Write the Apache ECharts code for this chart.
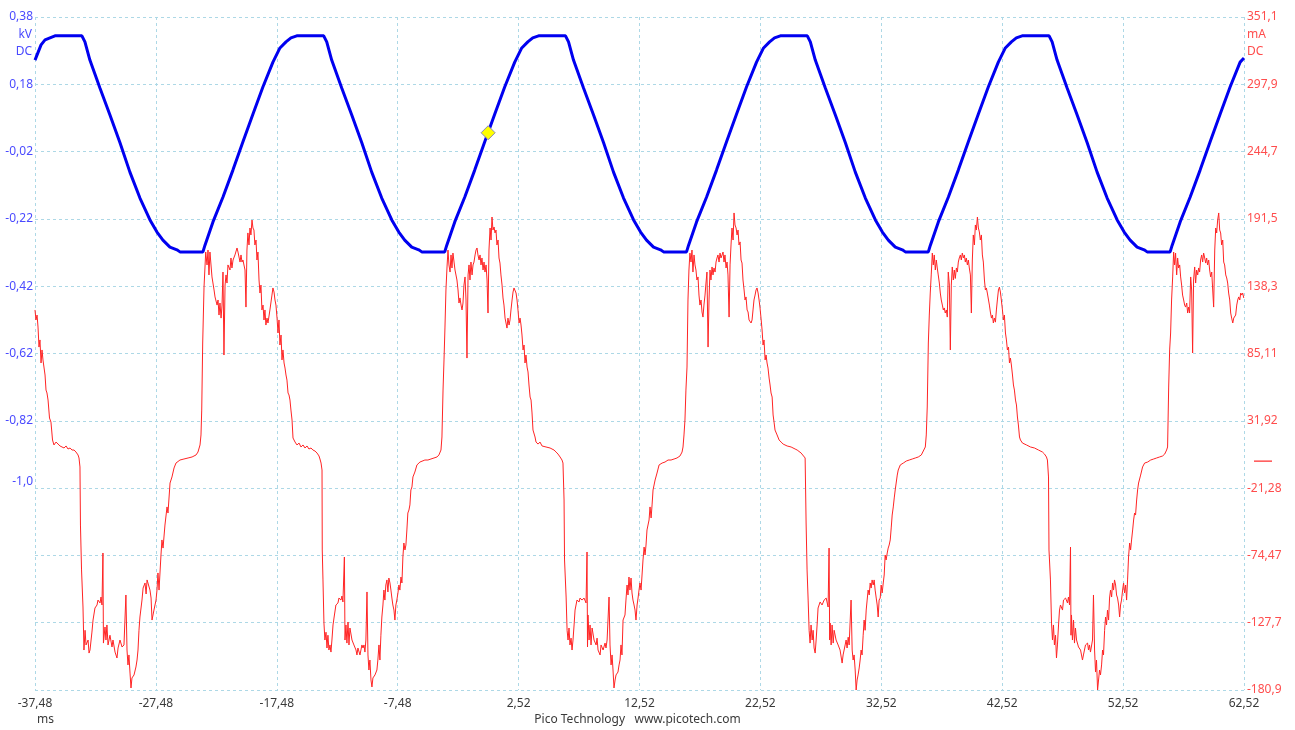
<!DOCTYPE html>
<html>
<head>
<meta charset="utf-8">
<script src="https://cdn.jsdelivr.net/npm/echarts@6/dist/echarts.min.js"></script>
<style>
html,body{margin:0;padding:0;background:#fff;}
#chart{width:1295px;height:730px;}
</style>
</head>
<body>
<div id="chart"></div>
<script>
// ---- axis definitions ----
const timeRange = [-37.48, 62.52];           // ms
const timeStep = 10;
const kvRange = [-1.62, 0.38];               // kV
const kvTickValues = [0.38, 0.18, -0.02, -0.22, -0.42, -0.62, -0.82, -1.0];
const kvTickLabels = ['0,38', '0,18', '-0,02', '-0,22', '-0,42', '-0,62', '-0,82', '-1,0'];
const maRange = [-180.9, 351.1];             // mA
const maStep = 53.2;
const maTickLabels = ['-180,9', '-127,7', '-74,47', '-21,28', '31,92', '85,11', '138,3', '191,5', '244,7', '297,9', '351,1'];
const triggerPoint = [0, 0.036];

// ---- channel A : voltage [ms, kV] ----
const voltage = [
[-37.48,0.252],[-36.98,0.297],[-36.65,0.312],[-36.24,0.318],
[-35.83,0.324],[-33.60,0.324],[-33.35,0.306],[-32.94,0.252],[-32.11,0.169],[-31.28,0.089],[-30.45,0.006],[-29.63,-0.081],[-28.80,-0.158],[-27.97,-0.223],[-27.39,-0.259],[-26.90,-0.283],[-26.32,-0.304],[-25.74,-0.312],[-25.49,-0.318],[-23.59,-0.318],[-23.42,-0.298],[-22.76,-0.229],[-21.93,-0.155],[-21.11,-0.075],[-20.28,0.009],[-19.45,0.092],[-18.63,0.172],[-17.80,0.246],[-17.22,0.288],[-16.72,0.306],[-16.31,0.318],
[-15.83,0.324],[-13.60,0.324],[-13.35,0.306],[-12.94,0.252],[-12.11,0.169],[-11.28,0.089],[-10.45,0.006],[-9.63,-0.081],[-8.80,-0.158],[-7.97,-0.223],[-7.39,-0.259],[-6.90,-0.283],[-6.32,-0.304],[-5.74,-0.312],[-5.49,-0.318],[-3.59,-0.318],[-3.42,-0.298],[-2.76,-0.229],[-1.93,-0.155],[-1.11,-0.075],[-0.28,0.009],[0.55,0.092],[1.37,0.172],[2.20,0.246],[2.78,0.288],[3.28,0.306],[3.69,0.318],
[4.17,0.324],[6.40,0.324],[6.65,0.306],[7.06,0.252],[7.89,0.169],[8.72,0.089],[9.55,0.006],[10.37,-0.081],[11.20,-0.158],[12.03,-0.223],[12.61,-0.259],[13.10,-0.283],[13.68,-0.304],[14.26,-0.312],[14.51,-0.318],[16.41,-0.318],[16.58,-0.298],[17.24,-0.229],[18.07,-0.155],[18.89,-0.075],[19.72,0.009],[20.55,0.092],[21.37,0.172],[22.20,0.246],[22.78,0.288],[23.28,0.306],[23.69,0.318],
[24.17,0.324],[26.40,0.324],[26.65,0.306],[27.06,0.252],[27.89,0.169],[28.72,0.089],[29.55,0.006],[30.37,-0.081],[31.20,-0.158],[32.03,-0.223],[32.61,-0.259],[33.10,-0.283],[33.68,-0.304],[34.26,-0.312],[34.51,-0.318],[36.41,-0.318],[36.58,-0.298],[37.24,-0.229],[38.07,-0.155],[38.89,-0.075],[39.72,0.009],[40.55,0.092],[41.37,0.172],[42.20,0.246],[42.78,0.288],[43.28,0.306],[43.69,0.318],
[44.17,0.324],[46.40,0.324],[46.65,0.306],[47.06,0.252],[47.89,0.169],[48.72,0.089],[49.55,0.006],[50.37,-0.081],[51.20,-0.158],[52.03,-0.223],[52.61,-0.259],[53.10,-0.283],[53.68,-0.304],[54.26,-0.312],[54.51,-0.318],[56.41,-0.318],[56.58,-0.298],[57.24,-0.229],[58.07,-0.155],[58.89,-0.075],[59.72,0.009],[60.55,0.092],[61.37,0.172],[62.20,0.246],[62.52,0.258]
];

// ---- channel B : current [ms, mA] ----
const currentCycle1 = [
[-37.48,119.5],[-37.40,111.6],[-37.31,115.5],[-37.23,106.0],[-37.15,90.2],[-37.07,95.8],[-36.98,77.6],[-36.90,87.9],[-36.82,80.0],[-36.74,81.5],[-36.65,68.1],[-36.57,56.2],[-36.49,53.9],[-36.40,48.3],[-36.28,34.1],[-36.16,30.9],[-36.03,16.7],[-35.91,12.8],[-35.74,15.1],[-35.58,14.3],[-35.41,12.0],[-35.25,12.8],[-35.08,10.4],[-34.91,12.0],[-34.75,9.6],[-34.58,10.4],[-34.42,8.8],[-34.25,8.8],[-34.09,7.2],[-33.92,4.9],[-33.84,2.5],[-33.76,-4.6],[-33.72,-50.5],[-33.63,-86.0],[-33.51,-115.3],[-33.43,-149.3],[-33.34,-133.7],[-33.26,-145.3],[-33.09,-141.4],[-33.01,-151.7],[-32.93,-149.3],[-32.77,-135.1],[-32.68,-125.6],[-32.52,-116.1],[-32.35,-113.7],[-32.27,-109.8],[-32.10,-112.1],[-32.02,-107.4],[-31.94,-113.7],[-31.86,-72.6],[-31.82,-143.8],[-31.69,-131.1],[-31.61,-141.4],[-31.53,-129.5],[-31.44,-145.3],[-31.28,-137.6],[-31.11,-146.9],[-31.03,-141.4],[-30.86,-150.9],[-30.70,-155.6],[-30.61,-147.7],[-30.45,-141.4],[-30.28,-146.9],[-30.12,-145.3],[-29.96,-105.8],[-29.87,-149.3],[-29.79,-161.1],[-29.71,-153.2],[-29.62,-167.5],[-29.54,-179.3],[-29.46,-171.4],[-29.29,-169.0],[-29.13,-162.7],[-29.04,-157.2],[-28.96,-149.3],[-28.88,-133.7],[-28.80,-123.2],[-28.63,-109.8],[-28.54,-100.3],[-28.38,-96.3],[-28.29,-105.0],[-28.21,-93.9],[-28.05,-93.9],[-27.97,-101.9],[-27.88,-108.2],[-27.80,-125.6],[-27.64,-117.7],[-27.47,-109.8],[-27.39,-101.9],[-27.31,-88.4],[-27.22,-101.9],[-27.06,-74.2],[-26.98,-62.3],[-26.89,-68.7],[-26.73,-50.5],[-26.56,-36.2],[-26.48,-41.0],[-26.31,-17.3],[-26.15,-12.5],[-25.98,-5.4],[-25.82,-1.5],[-25.49,0.9],[-25.16,1.7],[-24.82,2.5],[-24.49,3.3],[-24.16,4.9],[-24.00,7.2],[-23.83,12.8],[-23.75,20.7],[-23.69,40.4],[-23.61,93.4],[-23.50,137.6],[-23.36,165.3],[-23.25,155.1],[-23.17,166.9],[-23.09,147.2],[-23.01,165.3],[-22.84,145.6],[-22.67,135.3],[-22.59,129.8],[-22.42,123.4],[-22.34,127.4],[-22.26,115.5],[-22.18,125.0],[-22.09,113.1],[-22.01,123.4],[-21.93,149.5],[-21.85,83.9],[-21.76,139.2],[-21.68,147.2],[-21.60,140.8],[-21.52,155.1],[-21.35,151.1],[-21.27,160.6],[-21.19,152.7],[-21.10,159.0],[-20.94,163.0],[-20.77,168.5],[-20.69,165.3],[-20.52,157.4],[-20.44,163.0],[-20.36,157.4],[-20.28,159.0],[-20.11,151.1],[-20.03,121.8],[-19.95,166.9],[-19.87,180.4],[-19.78,170.9],[-19.70,184.3],[-19.62,178.8],[-19.53,190.6],[-19.45,184.3],[-19.37,182.7],[-19.29,170.9],[-19.20,174.8],[-19.12,159.0],[-19.04,165.3],[-18.95,143.2],[-18.87,132.9],[-18.79,139.2],[-18.71,119.5],[-18.62,123.4],[-18.54,111.6],[-18.46,119.5],[-18.38,107.6],[-18.29,113.1],[-18.21,109.2],[-18.05,119.5],[-17.88,131.3],[-17.80,136.9],[-17.71,133.7],[-17.63,127.4],[-17.55,123.4],[-17.46,113.1],[-17.38,101.3]
];
const currentCycle2 = [
[-17.30,111.6],[-17.22,91.8],[-17.13,99.7],[-17.05,80.0],[-16.97,87.9],[-16.88,77.6],[-16.80,73.6],[-16.72,68.1],[-16.64,64.1],[-16.55,53.9],[-16.47,52.3],[-16.39,48.3],[-16.31,40.4],[-16.22,32.5],[-16.14,18.3],[-15.97,15.1],[-15.81,12.8],[-15.64,14.3],[-15.48,11.2],[-15.31,12.8],[-15.15,10.4],[-14.98,12.0],[-14.82,9.6],[-14.65,10.4],[-14.49,8.8],[-14.32,8.0],[-14.15,6.4],[-13.99,4.1],[-13.91,1.7],[-13.82,-1.5],[-13.74,-7.0],[-13.72,-70.2],[-13.66,-93.9],[-13.58,-128.0],[-13.50,-141.4],[-13.41,-135.2],[-13.33,-147.7],[-13.25,-137.6],[-13.17,-149.3],[-13.08,-145.3],[-13.00,-150.9],[-12.92,-141.4],[-12.83,-129.5],[-12.75,-124.0],[-12.59,-113.7],[-12.42,-112.1],[-12.34,-108.2],[-12.17,-109.8],[-12.09,-106.6],[-12.01,-111.3],[-11.89,-75.8],[-11.84,-141.4],[-11.76,-129.5],[-11.68,-143.8],[-11.59,-127.2],[-11.51,-145.3],[-11.43,-131.9],[-11.26,-141.4],[-11.10,-145.3],[-10.93,-149.3],[-10.85,-153.2],[-10.77,-147.7],[-10.60,-153.2],[-10.44,-145.3],[-10.35,-147.7],[-10.27,-145.3],[-10.19,-150.9],[-10.11,-141.4],[-10.02,-103.4],[-9.94,-153.2],[-9.86,-165.1],[-9.78,-157.2],[-9.69,-173.0],[-9.61,-178.5],[-9.53,-171.4],[-9.36,-169.0],[-9.20,-165.1],[-9.12,-157.2],[-9.03,-145.3],[-8.95,-157.2],[-8.87,-137.6],[-8.79,-123.2],[-8.70,-113.7],[-8.62,-101.9],[-8.54,-109.8],[-8.46,-97.9],[-8.37,-93.9],[-8.29,-103.4],[-8.21,-92.4],[-8.12,-96.3],[-8.04,-101.9],[-7.96,-108.2],[-7.88,-113.7],[-7.79,-117.7],[-7.71,-125.6],[-7.63,-113.7],[-7.55,-109.8],[-7.46,-104.2],[-7.38,-97.9],[-7.30,-101.9],[-7.21,-91.6],[-7.13,-96.3],[-7.05,-75.8],[-6.97,-64.7],[-6.88,-70.2],[-6.80,-66.3],[-6.72,-54.4],[-6.64,-41.0],[-6.55,-38.6],[-6.47,-34.6],[-6.39,-22.8],[-6.30,-20.4],[-6.22,-12.5],[-6.06,-8.6],[-5.89,-3.0],[-5.64,-0.7],[-5.48,-1.5],[-5.23,0.9],[-4.98,0.9],[-4.73,1.7],[-4.48,2.5],[-4.23,3.3],[-4.07,4.9],[-3.90,8.8],[-3.82,19.1],[-3.73,56.2],[-3.65,80.0],[-3.57,106.0],[-3.49,135.3],[-3.40,153.5],[-3.32,166.9],[-3.24,155.1],[-3.15,149.5],[-3.07,163.0],[-2.99,152.7],[-2.91,164.5],[-2.82,157.4],[-2.74,151.1],[-2.58,143.2],[-2.49,135.3],[-2.41,125.0],[-2.33,129.0],[-2.24,123.4],[-2.16,119.5],[-2.08,125.0],[-2.00,139.2],[-1.91,145.6],[-1.83,127.4],[-1.75,81.5],[-1.66,147.2],[-1.58,155.1],[-1.50,143.2],[-1.42,157.4],[-1.33,147.2],[-1.25,155.1],[-1.17,157.4],[-1.08,163.0],[-1.00,166.9],[-0.92,168.5],[-0.84,163.0],[-0.75,159.0],[-0.67,163.0],[-0.59,155.1],[-0.51,160.6],[-0.42,151.1],[-0.34,157.4],[-0.26,149.5],[-0.17,155.1],[-0.09,143.2],[-0.01,117.1],[0.07,166.9],[0.16,184.3],[0.24,174.8],[0.32,193.0],[0.40,182.7],[0.49,185.1],[0.57,180.4],[0.65,182.7],[0.73,170.9],[0.82,174.8],[0.90,160.6],[0.98,156.6],[1.06,147.2],[1.15,139.2],[1.23,129.0],[1.31,123.4],[1.40,113.1],[1.48,111.6],[1.56,105.2],[1.64,113.1],[1.73,107.6],[1.81,111.6],[1.89,119.5],[1.98,127.4],[2.06,133.7],[2.14,136.9],[2.22,137.6],[2.31,132.9],[2.39,127.4],[2.47,119.5],[2.56,109.2]
];
const currentCycle3 = [
[2.64,113.1],[2.72,107.6],[2.80,99.7],[2.89,87.9],[2.97,91.8],[3.05,77.6],[3.13,83.9],[3.22,74.4],[3.30,70.5],[3.38,60.2],[3.47,50.7],[3.55,48.3],[3.63,38.1],[3.71,24.6],[3.88,19.1],[3.96,15.1],[4.13,13.5],[4.29,15.1],[4.46,12.0],[4.62,12.8],[4.79,11.2],[4.95,12.0],[5.12,10.4],[5.28,9.6],[5.45,8.8],[5.62,7.2],[5.78,5.6],[5.95,3.3],[6.11,0.9],[6.19,-1.5],[6.28,-30.7],[6.32,-78.1],[6.45,-107.4],[6.53,-133.7],[6.61,-141.4],[6.69,-131.9],[6.77,-145.3],[6.86,-139.9],[6.94,-149.3],[7.02,-141.4],[7.11,-129.5],[7.19,-117.7],[7.35,-109.8],[7.52,-111.3],[7.60,-108.2],[7.77,-109.8],[7.93,-108.2],[8.10,-112.1],[8.18,-71.8],[8.22,-146.9],[8.26,-121.6],[8.35,-141.4],[8.43,-129.5],[8.51,-145.3],[8.60,-131.9],[8.76,-141.4],[8.93,-145.3],[9.01,-139.9],[9.09,-149.3],[9.26,-153.2],[9.34,-145.3],[9.51,-149.3],[9.67,-143.8],[9.75,-147.7],[9.84,-141.4],[10.00,-107.4],[10.08,-145.3],[10.17,-161.1],[10.25,-153.2],[10.33,-165.1],[10.41,-179.3],[10.50,-173.0],[10.58,-169.0],[10.74,-166.7],[10.83,-161.1],[10.91,-157.2],[10.99,-145.3],[11.07,-153.2],[11.16,-125.6],[11.32,-121.6],[11.40,-109.8],[11.49,-97.9],[11.57,-105.8],[11.65,-91.6],[11.73,-101.9],[11.82,-92.4],[11.90,-104.2],[11.98,-109.8],[12.07,-113.7],[12.15,-117.7],[12.23,-125.6],[12.32,-113.7],[12.40,-108.2],[12.48,-101.9],[12.56,-96.3],[12.65,-101.9],[12.73,-90.0],[12.81,-78.1],[12.90,-67.9],[12.98,-74.2],[13.06,-66.3],[13.14,-54.4],[13.31,-46.5],[13.39,-36.2],[13.48,-44.9],[13.56,-34.6],[13.64,-22.8],[13.81,-14.9],[13.97,-9.4],[14.14,-3.0],[14.39,-1.5],[14.63,-0.7],[14.88,0.9],[15.13,0.9],[15.38,1.7],[15.62,2.5],[15.87,4.1],[16.04,7.2],[16.12,11.2],[16.20,20.7],[16.28,32.5],[16.36,56.2],[16.45,74.4],[16.53,127.4],[16.61,151.1],[16.69,164.5],[16.78,157.4],[16.86,166.9],[16.94,149.5],[17.03,163.0],[17.11,155.1],[17.19,151.1],[17.27,143.2],[17.36,145.6],[17.44,131.3],[17.52,123.4],[17.61,127.4],[17.69,117.9],[17.77,113.9],[17.85,123.4],[17.94,131.3],[18.02,140.8],[18.10,149.5],[18.19,90.2],[18.27,127.4],[18.35,151.1],[18.43,143.2],[18.52,153.5],[18.60,147.2],[18.68,152.7],[18.77,149.5],[18.85,157.4],[18.93,160.6],[19.01,163.0],[19.10,157.4],[19.18,164.5],[19.26,160.6],[19.35,163.0],[19.43,165.3],[19.51,157.4],[19.59,163.0],[19.68,152.7],[19.76,157.4],[19.84,147.2],[19.93,113.9],[20.01,155.1],[20.09,170.9],[20.17,184.3],[20.26,174.8],[20.34,196.2],[20.42,186.7],[20.51,184.3],[20.59,178.8],[20.67,182.7],[20.75,170.9],[20.84,173.3],[20.92,159.0],[21.00,156.6],[21.08,143.2],[21.17,135.3],[21.25,127.4],[21.33,129.8],[21.42,119.5],[21.50,117.9],[21.58,111.6],[21.66,113.1],[21.75,109.2],[21.83,111.6],[21.91,119.5],[21.99,127.4],[22.08,131.3],[22.16,135.3],[22.24,136.9],[22.33,132.9],[22.41,127.4],[22.49,121.1]
];
const currentCycle4 = [
[22.57,113.1],[22.66,103.7],[22.74,91.8],[22.82,95.8],[22.91,80.0],[22.99,83.9],[23.07,77.6],[23.15,73.6],[23.24,65.7],[23.32,60.2],[23.40,53.9],[23.49,50.7],[23.57,36.5],[23.65,30.9],[23.73,24.6],[23.90,20.7],[24.07,16.7],[24.23,15.1],[24.40,13.5],[24.56,14.3],[24.73,12.0],[24.89,12.8],[25.06,11.2],[25.22,10.4],[25.39,9.6],[25.56,8.8],[25.72,8.0],[25.89,6.4],[26.05,4.9],[26.22,2.5],[26.30,-48.9],[26.38,-86.0],[26.47,-109.8],[26.55,-133.7],[26.63,-143.8],[26.71,-129.5],[26.80,-141.4],[26.88,-133.7],[26.96,-147.7],[27.05,-151.7],[27.13,-141.4],[27.21,-129.5],[27.29,-116.1],[27.46,-111.3],[27.62,-113.7],[27.79,-109.8],[27.96,-108.2],[28.12,-115.3],[28.20,-68.7],[28.25,-141.4],[28.29,-128.0],[28.37,-145.3],[28.45,-129.5],[28.54,-143.8],[28.62,-133.7],[28.78,-141.4],[28.95,-145.3],[29.11,-149.3],[29.28,-159.6],[29.36,-153.2],[29.53,-145.3],[29.61,-141.4],[29.69,-147.7],[29.78,-139.2],[29.86,-145.3],[30.02,-109.8],[30.11,-149.3],[30.19,-157.2],[30.27,-153.2],[30.36,-165.1],[30.44,-180.9],[30.52,-173.0],[30.60,-169.0],[30.69,-163.5],[30.77,-157.2],[30.85,-149.3],[30.93,-153.2],[31.02,-137.6],[31.10,-125.6],[31.18,-133.7],[31.27,-117.7],[31.35,-109.8],[31.43,-101.9],[31.52,-105.8],[31.60,-96.3],[31.68,-100.3],[31.76,-93.9],[31.85,-97.9],[31.93,-93.9],[32.01,-101.9],[32.10,-108.2],[32.18,-113.7],[32.26,-123.2],[32.34,-109.8],[32.43,-108.2],[32.51,-97.9],[32.59,-104.2],[32.68,-96.3],[32.76,-90.0],[32.84,-74.2],[32.92,-78.1],[33.01,-72.6],[33.09,-68.7],[33.17,-66.3],[33.26,-62.3],[33.34,-52.8],[33.42,-42.6],[33.51,-36.2],[33.59,-29.1],[33.67,-22.8],[33.75,-17.3],[33.84,-11.0],[33.92,-7.0],[34.09,-3.0],[34.34,-1.5],[34.59,0.1],[34.83,0.9],[35.08,1.7],[35.33,2.5],[35.58,3.3],[35.83,4.9],[35.99,6.4],[36.16,11.2],[36.24,20.7],[36.32,42.8],[36.41,93.4],[36.49,115.5],[36.57,132.9],[36.65,147.2],[36.74,164.5],[36.82,155.1],[36.90,163.0],[36.99,151.1],[37.07,159.0],[37.15,152.7],[37.23,147.2],[37.32,140.8],[37.40,132.9],[37.48,127.4],[37.57,123.4],[37.65,119.5],[37.73,121.1],[37.81,117.1],[37.90,119.5],[37.98,113.9],[38.06,149.5],[38.15,139.2],[38.23,87.9],[38.31,139.2],[38.39,153.5],[38.48,143.2],[38.56,151.1],[38.64,144.4],[38.73,152.7],[38.81,149.5],[38.89,157.4],[38.97,160.6],[39.06,163.0],[39.14,159.0],[39.22,164.5],[39.31,160.6],[39.39,163.0],[39.47,157.4],[39.55,160.6],[39.64,155.1],[39.72,159.0],[39.80,152.7],[39.89,147.2],[39.97,117.1],[40.05,159.0],[40.13,178.8],[40.22,170.9],[40.30,186.7],[40.38,182.7],[40.47,193.0],[40.55,184.3],[40.63,181.2],[40.71,174.8],[40.80,178.8],[40.88,163.0],[40.96,157.4],[41.05,143.2],[41.13,135.3],[41.21,136.9],[41.29,132.9],[41.38,133.7],[41.46,123.4],[41.54,117.9],[41.63,113.1],[41.71,115.5],[41.79,109.2],[41.87,113.1],[41.96,109.9],[42.04,119.5],[42.12,127.4],[42.21,135.3],[42.29,137.6],[42.37,133.7],[42.45,127.4]
];
const currentCycle5 = [
[42.54,119.5],[42.62,111.6],[42.70,115.5],[42.79,101.3],[42.87,95.8],[42.95,87.9],[43.04,90.2],[43.12,77.6],[43.20,81.5],[43.28,76.0],[43.37,68.1],[43.45,60.2],[43.53,56.2],[43.62,48.3],[43.70,44.4],[43.78,34.9],[43.86,28.6],[43.95,19.1],[44.03,16.7],[44.20,14.3],[44.36,15.1],[44.53,12.8],[44.69,13.5],[44.86,11.2],[45.02,12.0],[45.19,10.4],[45.35,9.6],[45.52,8.8],[45.68,8.0],[45.85,7.2],[46.02,5.6],[46.18,3.3],[46.26,0.9],[46.35,-12.5],[46.39,-70.2],[46.51,-93.9],[46.60,-128.0],[46.68,-141.4],[46.76,-129.5],[46.84,-145.3],[46.93,-137.6],[47.01,-155.6],[47.09,-145.3],[47.18,-129.5],[47.26,-117.7],[47.34,-113.7],[47.51,-117.7],[47.59,-109.8],[47.76,-108.2],[47.92,-112.1],[48.00,-107.4],[48.09,-113.7],[48.17,-67.9],[48.21,-137.6],[48.25,-121.6],[48.33,-141.4],[48.42,-125.6],[48.50,-143.8],[48.58,-131.9],[48.67,-141.4],[48.83,-146.9],[49.00,-149.3],[49.16,-157.2],[49.24,-153.2],[49.41,-145.3],[49.58,-143.8],[49.66,-149.3],[49.74,-145.3],[49.82,-150.9],[49.99,-141.4],[50.07,-105.8],[50.16,-149.3],[50.24,-166.7],[50.32,-157.2],[50.41,-180.9],[50.49,-173.0],[50.57,-165.1],[50.65,-169.0],[50.74,-161.1],[50.82,-149.3],[50.90,-153.2],[50.99,-133.7],[51.07,-123.2],[51.15,-129.5],[51.23,-117.7],[51.32,-125.6],[51.40,-108.2],[51.48,-101.9],[51.57,-107.4],[51.65,-96.3],[51.73,-101.9],[51.81,-93.9],[51.90,-97.9],[51.98,-105.8],[52.06,-108.2],[52.15,-113.7],[52.23,-123.2],[52.31,-113.7],[52.39,-109.8],[52.48,-101.9],[52.56,-96.3],[52.64,-104.2],[52.73,-97.9],[52.81,-109.8],[52.89,-93.9],[52.97,-75.8],[53.06,-64.7],[53.14,-70.2],[53.22,-62.3],[53.31,-54.4],[53.39,-46.5],[53.47,-41.0],[53.55,-42.6],[53.64,-30.7],[53.72,-22.8],[53.80,-17.3],[53.97,-11.0],[54.13,-4.6],[54.30,-1.5],[54.55,-0.7],[54.80,0.9],[55.05,1.7],[55.29,2.5],[55.54,3.3],[55.79,4.1],[55.96,5.6],[56.12,8.8],[56.20,11.2],[56.29,58.6],[56.37,87.9],[56.45,101.3],[56.53,127.4],[56.62,145.6],[56.70,165.3],[56.78,155.1],[56.86,164.5],[56.95,147.2],[57.03,160.6],[57.11,152.7],[57.20,155.1],[57.28,145.6],[57.36,139.2],[57.44,131.3],[57.53,127.4],[57.61,123.4],[57.69,121.8],[57.78,125.0],[57.86,117.1],[57.94,121.8],[58.02,117.1],[58.11,145.6],[58.19,135.3],[58.27,85.5],[58.35,143.2],[58.44,153.5],[58.52,140.8],[58.60,151.1],[58.69,147.2],[58.77,152.7],[58.85,149.5],[58.93,159.0],[59.02,163.0],[59.10,157.4],[59.18,164.5],[59.27,160.6],[59.35,156.6],[59.43,160.6],[59.51,155.1],[59.60,159.0],[59.68,151.1],[59.76,145.6],[59.85,149.5],[60.01,121.8],[60.10,166.9],[60.18,184.3],[60.26,180.4],[60.34,190.6],[60.43,196.2],[60.51,182.7],[60.59,180.4],[60.67,170.9],[60.76,174.8],[60.84,157.4],[60.92,155.1],[61.01,147.2],[61.09,144.8],[61.17,140.8],[61.25,132.9],[61.34,127.4],[61.42,117.1],[61.50,113.1],[61.59,109.2],[61.67,113.1],[61.75,111.6],[61.83,115.5],[61.92,123.4],[62.00,127.4],[62.08,129.8],[62.17,127.4],[62.25,132.9],[62.33,131.3],[62.41,132.9],[62.50,129.0]
];

const current = [].concat(currentCycle1, currentCycle2, currentCycle3, currentCycle4, currentCycle5);

const FONT = "'Noto Sans', 'Open Sans', sans-serif";
const gridLine = { show: true, lineStyle: { color: '#add8e6', width: 1, type: [3, 3] } };

const chart = echarts.init(document.getElementById('chart'), null, { renderer: 'canvas' });
const option = {
  backgroundColor: '#ffffff',
  animation: false,
  grid: { left: 35, right: 51, top: 17, bottom: 40, containLabel: false },
  xAxis: {
    type: 'value',
    min: timeRange[0], max: timeRange[1], interval: timeStep,
    axisLine: { show: false, onZero: false }, axisTick: { show: false },
    splitLine: gridLine,
    axisLabel: {
      color: '#3a3a3a', fontFamily: FONT, fontSize: 12, margin: 8,
      formatter: v => v.toFixed(2).replace('.', ',')
    }
  },
  yAxis: [
    {
      type: 'value', position: 'left',
      min: kvRange[0], max: kvRange[1],
      axisLine: { show: false, onZero: false }, axisTick: { show: false }, splitLine: { show: false },
      name: 'kV\nDC', nameLocation: 'end', nameGap: -9,
      nameTextStyle: { color: '#4a4aff', fontFamily: FONT, fontSize: 12, align: 'right', verticalAlign: 'top', lineHeight: 17, padding: [0, 3, 0, 0] },
      axisLabel: {
        customValues: kvTickValues,
        color: '#4a4aff', fontFamily: FONT, fontSize: 12, margin: 2,
        formatter: v => {
          const i = kvTickValues.findIndex(k => Math.abs(k - v) < 1e-6);
          return i >= 0 ? kvTickLabels[i] : '';
        }
      }
    },
    {
      type: 'value', position: 'right',
      min: maRange[0], max: maRange[1], interval: maStep,
      axisLine: { show: false, onZero: false }, axisTick: { show: false },
      splitLine: gridLine,
      name: 'mA\nDC', nameLocation: 'end', nameGap: -9,
      nameTextStyle: { color: '#ff4d4d', fontFamily: FONT, fontSize: 12, align: 'left', verticalAlign: 'top', lineHeight: 17, padding: [0, 0, 0, 3] },
      axisLabel: {
        color: '#ff4d4d', fontFamily: FONT, fontSize: 12, margin: 3,
        formatter: v => {
          const i = Math.round((v - maRange[0]) / maStep);
          return maTickLabels[i] !== undefined ? maTickLabels[i] : '';
        }
      }
    }
  ],
  series: [
    {
      name: 'A', type: 'line', yAxisIndex: 0, data: voltage,
      showSymbol: false, symbol: 'none', smooth: false,
      lineStyle: { color: '#0000f0', width: 3 },
      z: 2,
      markPoint: {
        symbol: 'diamond', symbolSize: 14,
        itemStyle: { color: '#ffff00', borderColor: '#8a8ab0', borderWidth: 1 },
        label: { show: false },
        data: [{ coord: triggerPoint }]
      }
    },
    {
      name: 'B', type: 'line', yAxisIndex: 1, data: current,
      showSymbol: false, symbol: 'none', smooth: false,
      lineStyle: { color: '#ff2424', width: 1 },
      z: 3
    }
  ]
};
chart.setOption(option);

// texts and the channel-B zero marker, placed through the axis scales
const zeroY = chart.convertToPixel({ yAxisIndex: 1 }, 0);
const leftEdge = chart.convertToPixel({ xAxisIndex: 0 }, timeRange[0]);
const rightEdge = chart.convertToPixel({ xAxisIndex: 0 }, timeRange[1]);
chart.setOption({
  graphic: [
    { type: 'text', x: leftEdge + 2, y: 714, style: { text: 'ms', fill: '#3a3a3a', font: "12px 'Noto Sans', sans-serif" } },
    { type: 'text', x: (leftEdge + rightEdge) / 2 - 2, y: 714, style: { text: 'Pico Technology   www.picotech.com', textAlign: 'center', fill: '#3a3a3a', font: "12px 'Noto Sans', sans-serif" } },
    { type: 'line', shape: { x1: rightEdge + 10, y1: zeroY, x2: rightEdge + 28, y2: zeroY }, style: { stroke: '#ff5050', lineWidth: 1.5 } }
  ]
});
</script>
</body>
</html>
